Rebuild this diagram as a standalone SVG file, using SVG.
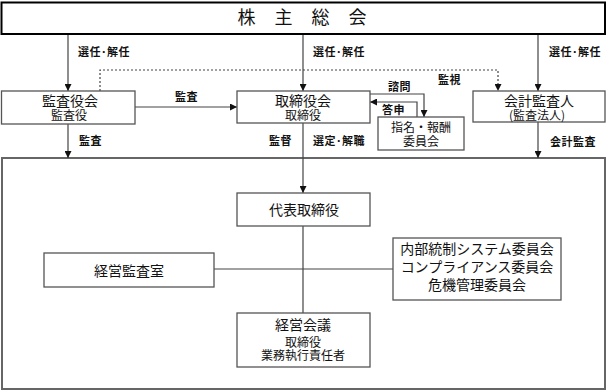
<svg xmlns="http://www.w3.org/2000/svg" width="607" height="391" viewBox="0 0 607 391">
<defs>
<style>
text{font-family:"Noto Sans CJK JP","Noto Sans CJK SC",sans-serif;fill:#111;text-anchor:middle}
.t{font-size:14px}
.s{font-size:12px}
.l{font-size:11px;font-weight:bold;text-anchor:start;letter-spacing:0.5px}
.box{fill:#fff;stroke:#555;stroke-width:1.3}
.ln{fill:none;stroke:#444;stroke-width:1.2}
.dot{fill:none;stroke:#444;stroke-width:1.2;stroke-dasharray:2 2}
</style>
<marker id="ah" viewBox="0 0 10 10" refX="10" refY="5" markerWidth="7" markerHeight="7" markerUnits="userSpaceOnUse" orient="auto">
<path d="M0,0 L10,5 L0,10 Z" fill="#111"/>
</marker>
</defs>
<rect width="607" height="391" fill="#fff"/>

<g id="container">
<rect x="2" y="158" width="603" height="231" fill="none" stroke="#666" stroke-width="2"/>
</g>

<g id="connectors">
<line class="ln" x1="68" y1="35" x2="68" y2="91" marker-end="url(#ah)"/>
<line class="ln" x1="303" y1="35" x2="303" y2="91" marker-end="url(#ah)"/>
<line class="ln" x1="538" y1="35" x2="538" y2="91" marker-end="url(#ah)"/>
<polyline class="dot" points="100,91 100,70 498,70 498,91" marker-end="url(#ah)"/>
<line class="ln" x1="135" y1="107" x2="237" y2="107" marker-end="url(#ah)"/>
<polyline class="ln" points="370,94 424,94 424,117" marker-end="url(#ah)"/>
<polyline class="ln" points="417,117 417,102 370,102" marker-end="url(#ah)"/>
<line class="ln" x1="68" y1="124" x2="68" y2="158" marker-end="url(#ah)"/>
<line class="ln" x1="538" y1="122" x2="538" y2="158" marker-end="url(#ah)"/>
<line class="ln" x1="303" y1="123" x2="303" y2="193" marker-end="url(#ah)"/>
<line class="ln" x1="303" y1="226" x2="303" y2="313"/>
<line class="ln" x1="214" y1="269" x2="393" y2="269"/>
</g>

<g id="labels">
<text class="l" x="78" y="56">選任･解任</text>
<text class="l" x="313" y="56">選任･解任</text>
<text class="l" x="549" y="56">選任･解任</text>
<text class="l" x="438" y="84">監視</text>
<text class="l" x="175" y="101">監査</text>
<text class="l" x="388" y="91">諮問</text>
<text class="l" x="382" y="114">答申</text>
<text class="l" x="79" y="145">監査</text>
<text class="l" x="269" y="145">監督</text>
<text class="l" x="313" y="145">選定･解職</text>
<text class="l" x="550" y="146">会計監査</text>
</g>

<g id="shareholders">
<rect x="1.5" y="2.5" width="603.5" height="31.5" fill="#fff" stroke="#000" stroke-width="2"/>
<text x="302" y="24" style="font-size:18px;letter-spacing:19px" dx="9.5">株主総会</text>
</g>

<g id="kansayakukai">
<rect class="box" x="1.5" y="91" width="133.5" height="33"/>
<text class="t" x="70" y="106">監査役会</text>
<text class="s" x="69" y="120">監査役</text>
</g>

<g id="torishimariyakukai">
<rect class="box" x="237" y="91" width="133" height="32"/>
<text class="t" x="303" y="106">取締役会</text>
<text class="s" x="303" y="120">取締役</text>
</g>

<g id="shimei">
<rect class="box" x="378" y="117" width="86" height="33"/>
<text class="s" x="421" y="132">指名・報酬</text>
<text class="s" x="421" y="146">委員会</text>
</g>

<g id="kaikei">
<rect class="box" x="473" y="91" width="132" height="31"/>
<text class="t" x="539" y="106">会計監査人</text>
<text class="s" x="537" y="120">(監査法人)</text>
</g>

<g id="daihyo">
<rect class="box" x="237" y="193" width="133" height="33"/>
<text class="t" x="304" y="215">代表取締役</text>
</g>

<g id="keiei-kansa">
<rect class="box" x="44" y="253" width="170" height="34"/>
<text class="t" x="129" y="276">経営監査室</text>
</g>

<g id="committees">
<rect class="box" x="393" y="238" width="168" height="62"/>
<text class="t" x="477" y="254">内部統制システム委員会</text>
<text class="t" x="477" y="272">コンプライアンス委員会</text>
<text class="t" x="477" y="290">危機管理委員会</text>
</g>

<g id="keiei-kaigi">
<rect class="box" x="237" y="313" width="133" height="54"/>
<text class="t" x="303" y="330">経営会議</text>
<text class="s" x="303" y="347">取締役</text>
<text class="s" x="303" y="360">業務執行責任者</text>
</g>
</svg>
